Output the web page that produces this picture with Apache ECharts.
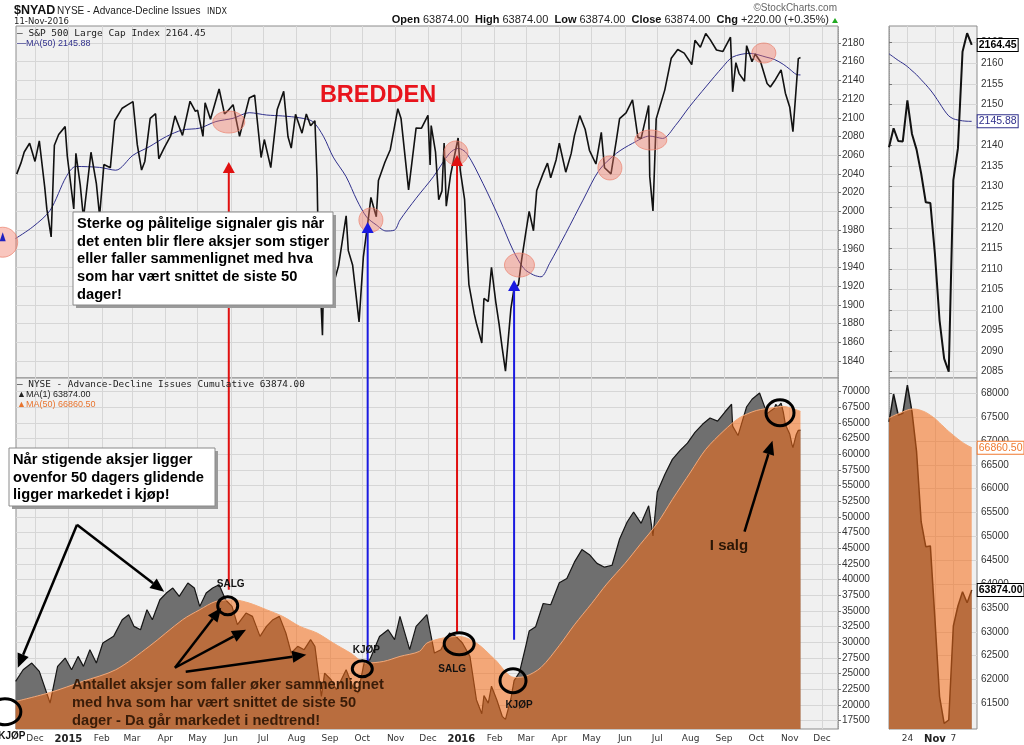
<!DOCTYPE html>
<html>
<head>
<meta charset="utf-8">
<title>$NYAD - Bredden</title>
<script src="https://cdn.jsdelivr.net/npm/echarts@6/dist/echarts.min.js"></script>
<style>
  html, body { margin: 0; padding: 0; background: #fff; }
  #chart { width: 1024px; height: 745px; }
</style>
</head>
<body>
<div id="chart"></div>
<script>
// ---- S&P 500 (upper panel) ----
var spxDates = ['2014-11-14','2014-11-18','2014-11-21','2014-11-26','2014-12-01','2014-12-05','2014-12-10','2014-12-12','2014-12-16','2014-12-19','2014-12-23','2014-12-29','2014-12-31',
  '2015-01-06','2015-01-08','2015-01-12','2015-01-15','2015-01-22','2015-01-27','2015-01-30','2015-02-03','2015-02-09','2015-02-13','2015-02-20','2015-02-25',
  '2015-03-02','2015-03-06','2015-03-10','2015-03-13','2015-03-18','2015-03-23','2015-03-26','2015-03-31','2015-04-06','2015-04-10','2015-04-17','2015-04-24','2015-04-29',
  '2015-05-01','2015-05-06','2015-05-08','2015-05-13','2015-05-21','2015-05-26','2015-05-29','2015-06-03','2015-06-09','2015-06-12','2015-06-18','2015-06-23','2015-06-29',
  '2015-07-02','2015-07-08','2015-07-14','2015-07-20','2015-07-24','2015-07-27','2015-07-31','2015-08-06','2015-08-10','2015-08-14','2015-08-18','2015-08-20','2015-08-21',
  '2015-08-25','2015-08-27','2015-09-01','2015-09-04','2015-09-09','2015-09-16','2015-09-18','2015-09-22','2015-09-28','2015-10-02','2015-10-07','2015-10-09','2015-10-14',
  '2015-10-16','2015-10-22','2015-10-27','2015-11-03','2015-11-06','2015-11-13','2015-11-20','2015-11-25','2015-12-01','2015-12-03','2015-12-04','2015-12-08','2015-12-11',
  '2015-12-14','2015-12-16','2015-12-18','2015-12-22','2015-12-29','2015-12-31','2016-01-04','2016-01-07','2016-01-08','2016-01-13','2016-01-15','2016-01-20','2016-01-22',
  '2016-01-26','2016-01-29','2016-02-02','2016-02-05','2016-02-08','2016-02-11','2016-02-16','2016-02-19','2016-02-23','2016-02-26','2016-03-01','2016-03-04','2016-03-08',
  '2016-03-11','2016-03-17','2016-03-21','2016-03-24','2016-03-29','2016-04-01','2016-04-07','2016-04-12','2016-04-15','2016-04-20','2016-04-25','2016-04-29','2016-05-05',
  '2016-05-10','2016-05-13','2016-05-19','2016-05-24','2016-05-27','2016-06-02','2016-06-08','2016-06-13','2016-06-16','2016-06-23','2016-06-24','2016-06-27','2016-06-30',
  '2016-07-08','2016-07-14','2016-07-20','2016-07-26','2016-08-02','2016-08-05','2016-08-10','2016-08-15','2016-08-19','2016-08-25','2016-08-31','2016-09-07','2016-09-09',
  '2016-09-12','2016-09-15','2016-09-20','2016-09-22','2016-09-27','2016-09-30','2016-10-05','2016-10-11','2016-10-14','2016-10-18','2016-10-24','2016-10-28','2016-11-01',
  '2016-11-04','2016-11-07','2016-11-09','2016-11-11'];
var spxClose = [2039.8,2051.8,2063.5,2072.8,2053.4,2075.4,2026.1,2002.3,1972.7,2070.7,2082.2,2090.6,2058.9,
  2002.6,2062.1,2028.3,1992.7,2063.2,2029.6,1995.0,2050.0,2046.7,2096.9,2110.3,2113.9,
  2117.4,2071.3,2044.2,2053.4,2099.5,2104.4,2056.2,2067.9,2080.6,2102.1,2081.2,2117.7,2106.9,
  2108.3,2080.2,2116.1,2098.5,2130.8,2104.2,2107.4,2114.1,2080.2,2094.1,2121.2,2124.2,2057.6,
  2076.8,2046.7,2108.9,2128.3,2079.7,2067.6,2103.8,2083.6,2104.2,2091.5,2096.9,2035.7,1971.0,
  1867.6,1987.7,1913.9,1921.2,1942.0,1995.3,1958.0,1942.7,1881.8,1951.4,1995.8,2014.9,1994.2,
  2033.1,2052.5,2065.9,2109.8,2099.2,2023.0,2089.2,2088.9,2102.6,2049.6,2091.7,2063.6,2012.4,
  2021.9,2073.1,2005.6,2038.9,2078.4,2043.9,2012.7,1943.1,1922.0,1890.3,1880.3,1859.3,1906.9,
  1903.6,1940.2,1903.0,1880.0,1853.4,1829.1,1895.6,1917.8,1921.3,1948.1,1978.4,1999.9,1979.3,
  2022.2,2040.6,2051.6,2035.9,2055.0,2072.8,2041.9,2061.7,2080.7,2102.4,2087.8,2065.3,2050.6,
  2084.4,2046.6,2040.0,2076.1,2099.1,2105.3,2119.1,2079.1,2078.0,2113.3,2037.4,2000.5,2098.9,
  2129.9,2163.8,2173.0,2169.2,2157.0,2182.9,2175.5,2190.2,2183.9,2172.5,2171.0,2186.2,2127.8,
  2159.0,2147.3,2139.1,2177.2,2159.9,2168.3,2159.7,2136.7,2133.0,2139.6,2151.3,2126.4,2111.7,
  2085.2,2131.5,2163.3,2164.45];
var spxMaDates = ['2014-11-13','2014-11-29','2014-12-15','2014-12-30','2015-01-08','2015-01-30','2015-02-14','2015-03-02','2015-03-17','2015-04-02','2015-04-17',
  '2015-05-03','2015-05-18','2015-06-03','2015-06-18','2015-07-04','2015-07-19','2015-08-04','2015-08-16','2015-08-26','2015-09-04','2015-09-16','2015-09-26',
  '2015-10-05','2015-10-14','2015-10-23','2015-10-31','2015-11-05','2015-11-20','2015-12-06','2015-12-21','2015-12-29','2016-01-06','2016-01-21','2016-02-06',
  '2016-02-18','2016-02-28','2016-03-08','2016-03-15','2016-03-23','2016-04-07','2016-04-23','2016-05-08','2016-05-24','2016-06-08','2016-06-24','2016-07-06',
  '2016-07-18','2016-07-31','2016-08-15','2016-08-31','2016-09-09','2016-09-25','2016-10-10','2016-10-18','2016-10-26','2016-11-01','2016-11-07','2016-11-11'];
var spxMa50 = [1971,1983.5,2001,2037,2048,2047,2044,2060,2069,2080,2087,
  2089,2096,2099.5,2105.5,2103,2102,2100,2096,2080,2058,2037,2012,
  1994,1985.5,1979,1980,1990.7,2014,2037,2062,2067.4,2062,2030,1990.7,
  1958.6,1939,1932,1930,1944.4,1976.5,2012,2044,2062,2072.7,2080.5,2078,
  2092,2112,2133,2154.7,2165,2169,2165,2162.3,2157.2,2152,2146.5,2145.88];

// ---- NYSE Advance-Decline cumulative (lower panel) ----
var adDates = ['2014-11-13','2014-11-20','2014-11-28','2014-12-05','2014-12-15','2014-12-22','2014-12-29','2015-01-04','2015-01-10','2015-01-15','2015-01-21','2015-01-27',
  '2015-02-02','2015-02-12','2015-02-20','2015-02-26','2015-03-03','2015-03-09','2015-03-15','2015-03-20','2015-03-27','2015-04-02','2015-04-08','2015-04-14','2015-04-22',
  '2015-04-28','2015-05-03','2015-05-09','2015-05-15','2015-05-21','2015-05-27','2015-06-02','2015-06-07','2015-06-15','2015-06-21','2015-06-28','2015-07-04','2015-07-10',
  '2015-07-16','2015-07-22','2015-07-27','2015-08-02','2015-08-08','2015-08-14','2015-08-18','2015-08-24','2015-08-27','2015-09-02','2015-09-07','2015-09-16','2015-09-22',
  '2015-09-27','2015-10-03','2015-10-08','2015-10-17','2015-10-25','2015-10-31','2015-11-05','2015-11-14','2015-11-20','2015-11-30','2015-12-07','2015-12-13','2015-12-21',
  '2015-12-27','2016-01-02','2016-01-09','2016-01-15','2016-01-20','2016-01-22','2016-01-26','2016-01-29','2016-02-03','2016-02-08','2016-02-11','2016-02-16','2016-02-19',
  '2016-02-24','2016-03-01','2016-03-04','2016-03-10','2016-03-17','2016-03-24','2016-04-01','2016-04-08','2016-04-15','2016-04-22','2016-04-29','2016-05-06','2016-05-13',
  '2016-05-20','2016-05-27','2016-06-03','2016-06-09','2016-06-16','2016-06-23','2016-06-27','2016-07-01','2016-07-08','2016-07-15','2016-07-22','2016-07-29','2016-08-05',
  '2016-08-12','2016-08-19','2016-08-26','2016-09-02','2016-09-08','2016-09-09','2016-09-14','2016-09-22','2016-09-27','2016-10-04','2016-10-11','2016-10-14','2016-10-18',
  '2016-10-19','2016-10-21','2016-10-24','2016-10-26','2016-10-28','2016-11-01','2016-11-03','2016-11-04','2016-11-07','2016-11-09','2016-11-11'];
var adLine = [23765,25630,26700,25375,20320,26170,27500,25630,27760,26170,28830,26700,
  29900,30960,33620,34420,32550,32020,35210,33620,36800,37870,38670,37340,39470,
  38670,35740,37870,38670,39200,36800,35740,32820,34680,34150,30960,32550,33620,
  34150,31490,28300,29370,28830,30430,29370,21390,25100,24040,22450,25630,22980,
  21920,26970,27230,30950,32020,30430,34150,28830,32550,34420,28300,28830,31490,
  30960,29900,27760,20850,18600,21500,20300,23000,20800,18200,17700,21000,23900,
  25200,29500,31800,32500,36200,36000,39500,40200,42800,44800,44000,42600,42000,
  42300,46500,49200,50800,49000,51800,47000,54000,56800,59200,60600,61800,63500,
  64800,65800,65300,66800,68000,64500,63000,67600,68800,69800,66500,66900,67400,
  67985,67580,68174,66776,64784,63260,61640,61080,63120,63840,63874];
var adMaDates = ['2014-11-13','2014-12-15','2015-01-14','2015-02-14','2015-03-17','2015-04-17','2015-05-03','2015-05-18','2015-06-03','2015-06-18','2015-07-04',
  '2015-07-19','2015-08-04','2015-08-20','2015-09-04','2015-09-20','2015-10-05','2015-10-21','2015-11-05','2015-11-23','2015-11-30','2015-12-15','2015-12-30',
  '2016-01-15','2016-02-01','2016-02-19','2016-03-01','2016-03-15','2016-04-01','2016-04-15','2016-05-01','2016-05-15','2016-06-01','2016-06-15','2016-07-01',
  '2016-07-15','2016-08-01','2016-08-15','2016-09-01','2016-09-15','2016-10-01','2016-10-18','2016-10-25','2016-11-01','2016-11-07','2016-11-11'];
var adMa50 = [20570,22000,23760,25630,29350,33600,35210,36540,36800,36270,35210,
  34150,32550,31490,29900,28300,26700,26970,27760,28560,29890,30690,30950,
  29890,27300,24400,24600,26000,29500,32800,36200,39300,42600,45600,49000,
  52800,57200,60800,63800,65800,67000,67480,67665,67470,67120,66860.5];

// ---- zoomed inset: last trading days ----
var insetDates = ['2016-10-18','2016-10-19','2016-10-20','2016-10-21','2016-10-24','2016-10-25','2016-10-26','2016-10-27','2016-10-28','2016-10-31',
  '2016-11-01','2016-11-02','2016-11-03','2016-11-04','2016-11-07','2016-11-08','2016-11-09','2016-11-10','2016-11-11'];
var insetSpx = [2139.6,2144.2,2141.1,2141.0,2151.0,2142.8,2139.0,2133.2,2126.2,2126.0,2113.5,2097.5,2088.2,2085.0,2131.6,2139.3,2162.8,2167.3,2164.45];
var insetSpxMa = [2162.3,2161.5,2160.7,2160.0,2159.2,2158.2,2157.2,2156.0,2154.8,2153.5,2152.0,2150.3,2148.6,2147.2,2146.5,2146.2,2146.0,2145.9,2145.88];
var insetAd = [67400,67985,67545,67580,68174,67615,66776,65308,64784,64800,63260,61640,61080,61150,63120,63540,63840,63610,63874];
var insetAdMa = [67480,67530,67570,67610,67650,67670,67665,67640,67600,67540,67470,67380,67290,67200,67120,67040,66970,66910,66860.5];

// ---- axis ticks ----
var xTickDates = ['2014-12-01','2015-01-01','2015-02-01','2015-03-01','2015-04-01','2015-05-01','2015-06-01','2015-07-01','2015-08-01','2015-09-01','2015-10-01','2015-11-01','2015-12-01',
  '2016-01-01','2016-02-01','2016-03-01','2016-04-01','2016-05-01','2016-06-01','2016-07-01','2016-08-01','2016-09-01','2016-10-01','2016-11-01','2016-12-01'];
var xTickLabels = ['Dec','2015','Feb','Mar','Apr','May','Jun','Jul','Aug','Sep','Oct','Nov','Dec','2016','Feb','Mar','Apr','May','Jun','Jul','Aug','Sep','Oct','Nov','Dec'];
var spxTicks = [1840,1860,1880,1900,1920,1940,1960,1980,2000,2020,2040,2060,2080,2100,2120,2140,2160,2180];
var adTicks = [17500,20000,22500,25000,27500,30000,32500,35000,37500,40000,42500,45000,47500,50000,52500,55000,57500,60000,62500,65000,67500,70000];
var insetSpxTicks = [2085,2090,2095,2100,2105,2110,2115,2120,2125,2130,2135,2140,2145,2150,2155,2160,2165];
var insetAdTicks = [61500,62000,62500,63000,63500,64000,64500,65000,65500,66000,66500,67000,67500,68000];
var insetTickIdx = [4, 10, 14];
var insetTickLabels = ['24', 'Nov', '7'];

// ---- annotation anchors (data units) ----
var pinkSpots = [['2014-11-01',1967],['2015-05-30',2095.5],['2015-10-09',1990.8],['2015-12-27',2062.4],['2016-02-24',1942.6],['2016-05-18',2046.4],['2016-06-25',2076.3],['2016-10-08',2169.3]];
var signalArrows = [ // date, A-D value at foot, S&P value at tip
  ['2015-05-30',38400,2052.8,'#e01010'],
  ['2015-10-06',26900,1988.6,'#1a1ae0'],
  ['2015-12-28',31540,2060.3,'#e01010'],
  ['2016-02-19',30420,1926.6,'#1a1ae0']
];
var blackRings = [['2014-11-03',18928],['2015-05-29',35845],['2015-10-01',25790],['2015-12-30',29780],['2016-02-18',23876],['2016-10-23',66648]];
var pointerArrows = [
  [['2015-01-09',48773],['2014-11-15',25950]],
  [['2015-01-09',48773],['2015-03-31',38080]],
  [['2015-04-10',25950],['2015-05-23',35530]],
  [['2015-04-10',25950],['2015-06-15',32015]],
  [['2015-04-20',25310],['2015-08-10',28025]],
  [['2016-09-20',47656],['2016-10-16',62180]]
];

function t(s) { var p = s.split('-'); return new Date(+p[0], +p[1] - 1, +p[2]).getTime(); }
function pairs(dates, vals) { return dates.map(function (d, i) { return [t(d), vals[i]]; }); }
function idxPairs(vals) { return vals.map(function (v, i) { return [i, v]; }); }

var DAY = 86400000;
var xMin = t('2014-12-01') - 17.65 * DAY;
var xMax = t('2016-12-01') + 14.86 * DAY;
var xTickTimes = xTickDates.map(t);
var FONT = "'Liberation Sans', Arial, sans-serif";
var gridLine = { show: true, lineStyle: { color: '#d6d6d6', width: 1 } };

function dateAxis(grid, showLabels) {
  return {
    type: 'value', gridIndex: grid, min: xMin, max: xMax,
    axisLine: { show: false },
    axisTick: { show: false, customValues: xTickTimes },
    splitLine: gridLine,
    axisLabel: {
      show: showLabels, customValues: xTickTimes, margin: 5,
      fontFamily: 'DejaVu Sans', fontSize: 9, color: '#333',
      formatter: function (v) {
        var k = xTickTimes.indexOf(v);
        var s = k >= 0 ? xTickLabels[k] : '';
        return /^\d{4}$/.test(s) ? '{b|' + s + '}' : s;
      },
      rich: { b: { fontFamily: 'DejaVu Sans', fontSize: 10, fontWeight: 'bold', color: '#222' } }
    }
  };
}
function indexAxis(grid, showLabels) {
  return {
    type: 'value', gridIndex: grid, min: 0, max: 19.15,
    axisLine: { show: false },
    axisTick: { show: false, customValues: insetTickIdx },
    splitLine: gridLine,
    axisLabel: {
      show: showLabels, customValues: insetTickIdx, margin: 5,
      fontFamily: 'DejaVu Sans', fontSize: 9, color: '#333',
      formatter: function (v) {
        var s = insetTickLabels[insetTickIdx.indexOf(v)] || '';
        return /^[A-Z]/.test(s) ? '{b|' + s + '}' : s;
      },
      rich: { b: { fontFamily: 'DejaVu Sans', fontSize: 10, fontWeight: 'bold', color: '#222' } }
    }
  };
}
function priceAxis(grid, min, max, ticks) {
  return {
    type: 'value', gridIndex: grid, position: 'right', min: min, max: max,
    axisLine: { show: true, lineStyle: { color: '#9a9a9a', type: 'dotted' } },
    axisTick: { show: true, length: 3, customValues: ticks, lineStyle: { color: '#777' } },
    splitLine: gridLine,
    axisLabel: { customValues: ticks, margin: 4, fontFamily: FONT, fontSize: 10, color: '#333',
      formatter: function (v) { return String(v); } }
  };
}
function callout(color, bold) {
  return {
    show: true, distance: 6, align: 'left', verticalAlign: 'middle',
    formatter: function (p) { return p.value[1].toFixed(2); },
    fontFamily: FONT, fontSize: 10.5, fontWeight: bold ? 'bold' : 'normal', color: bold ? '#000' : color,
    backgroundColor: '#fff', borderColor: color, borderWidth: 1, padding: [1, 1, 0, 1]
  };
}

var gridStyle = { show: true, backgroundColor: '#f0f0f0', borderColor: '#8c8c8c', borderWidth: 1 };
var chart = echarts.init(document.getElementById('chart'));
chart.setOption({
  animation: false,
  backgroundColor: '#ffffff',
  grid: [
    Object.assign({ left: 16, top: 26, width: 822, height: 352 }, gridStyle),
    Object.assign({ left: 16, top: 378, width: 822, height: 351 }, gridStyle),
    Object.assign({ left: 889, top: 26, width: 88, height: 352 }, gridStyle),
    Object.assign({ left: 889, top: 378, width: 88, height: 351 }, gridStyle)
  ],
  xAxis: [dateAxis(0, false), dateAxis(1, true), indexAxis(2, false), indexAxis(3, true)],
  yAxis: [
    priceAxis(0, 1821.8, 2198.2, spxTicks),
    priceAxis(1, 16175, 72187, adTicks),
    priceAxis(2, 2083.47, 2169.06, insetSpxTicks),
    priceAxis(3, 60961, 68321, insetAdTicks)
  ],
  series: [
    { type: 'line', xAxisIndex: 0, yAxisIndex: 0, data: pairs(spxDates, spxClose), symbol: 'none',
      lineStyle: { color: '#111', width: 1.6 }, z: 3 },
    { type: 'line', xAxisIndex: 0, yAxisIndex: 0, data: pairs(spxMaDates, spxMa50), symbol: 'none', smooth: 0.3,
      lineStyle: { color: '#30308c', width: 1 }, z: 2 },
    { type: 'line', xAxisIndex: 1, yAxisIndex: 1, data: pairs(adDates, adLine), symbol: 'none',
      lineStyle: { color: '#151515', width: 1.2 }, areaStyle: { color: '#6f6f6f', opacity: 1, origin: 'start' }, z: 2 },
    { type: 'line', xAxisIndex: 1, yAxisIndex: 1, data: pairs(adMaDates, adMa50), symbol: 'none', smooth: 0.3,
      lineStyle: { color: '#f3a878', width: 1 }, areaStyle: { color: '#f56b15', opacity: 0.55, origin: 'start' }, z: 3 },
    { type: 'line', xAxisIndex: 2, yAxisIndex: 2, data: idxPairs(insetSpx), symbol: 'none',
      lineStyle: { color: '#111', width: 2 }, endLabel: callout('#000', true), z: 3 },
    { type: 'line', xAxisIndex: 2, yAxisIndex: 2, data: idxPairs(insetSpxMa), symbol: 'none', smooth: 0.3,
      lineStyle: { color: '#30308c', width: 1 }, endLabel: callout('#30308c', false), z: 2 },
    { type: 'line', xAxisIndex: 3, yAxisIndex: 3, data: idxPairs(insetAd), symbol: 'none',
      lineStyle: { color: '#151515', width: 1.5 }, areaStyle: { color: '#6f6f6f', opacity: 1, origin: 'start' },
      endLabel: callout('#000', true), z: 2 },
    { type: 'line', xAxisIndex: 3, yAxisIndex: 3, data: idxPairs(insetAdMa), symbol: 'none', smooth: 0.3,
      lineStyle: { color: '#f3a878', width: 1 }, areaStyle: { color: '#f56b15', opacity: 0.55, origin: 'start' },
      endLabel: callout('#f07a30', false), z: 3 }
  ]
});

// ---- annotations: positioned through the chart's own scales ----
function px(grid, d, v) { return chart.convertToPixel({ gridIndex: grid }, [t(d), v]); }
var Z = 50;
var g = [];
function txt(x, y, text, font, fill, align, extra) {
  g.push({ type: 'text', x: x, y: y, z: Z + 2, style: Object.assign({ text: text, font: font, fill: fill,
    align: align || 'left', verticalAlign: 'middle' }, extra || {}) });
}
function arrowHead(tip, from, len, w, color) {
  var dx = tip[0] - from[0], dy = tip[1] - from[1], L = Math.sqrt(dx * dx + dy * dy);
  var ux = dx / L, uy = dy / L, bx = tip[0] - ux * len, by = tip[1] - uy * len;
  g.push({ type: 'polygon', z: Z + 1, shape: { points: [tip, [bx - uy * w / 2, by + ux * w / 2], [bx + uy * w / 2, by - ux * w / 2]] },
    style: { fill: color } });
  return [bx, by];
}
function arrow(from, to, color, width, len, w) {
  var base = arrowHead(to, from, len, w, color);
  g.push({ type: 'line', z: Z, shape: { x1: from[0], y1: from[1], x2: base[0], y2: base[1] },
    style: { stroke: color, lineWidth: width } });
}

// header
txt(14, 11, '$NYAD', 'bold 12.5px ' + FONT, '#111');
txt(57, 11, 'NYSE - Advance-Decline Issues', '10px ' + FONT, '#222');
txt(207, 12, 'INDX', '8px DejaVu Sans', '#222');
txt(14, 22, '11-Nov-2016', '8.5px DejaVu Sans', '#222');
txt(837, 8, '\u00a9StockCharts.com', '10px ' + FONT, '#666', 'right');
var last = adLine[adLine.length - 1], prev = 63654;
g.push({ type: 'text', x: 829, y: 20, z: Z + 2, style: {
  text: '{b|Open} ' + last.toFixed(2) + '  {b|High} ' + last.toFixed(2) + '  {b|Low} ' + last.toFixed(2) +
        '  {b|Close} ' + last.toFixed(2) + '  {b|Chg} +' + (last - prev).toFixed(2) + ' (+' + ((last - prev) / prev * 100).toFixed(2) + '%)',
  font: '11px ' + FONT, fill: '#222', align: 'right', verticalAlign: 'middle',
  rich: { b: { font: 'bold 11px ' + FONT, fill: '#111' } } } });
g.push({ type: 'polygon', z: Z, shape: { points: [[832, 23], [838, 23], [835, 18]] }, style: { fill: '#22aa22' } });

// panel legends
txt(17, 34, '\u2014 S&P 500 Large Cap Index ' + spxClose[spxClose.length - 1].toFixed(2), '9.5px DejaVu Sans Mono', '#222');
txt(17, 44, '\u2014MA(50) ' + insetSpxMa[insetSpxMa.length - 1].toFixed(2), '9px ' + FONT, '#30308c');
txt(17, 385, '\u2014 NYSE - Advance-Decline Issues Cumulative ' + last.toFixed(2), '9.4px DejaVu Sans Mono', '#222');
txt(17, 395, '\u25b2MA(1) ' + insetAd[insetAd.length - 1].toFixed(2), '9px ' + FONT, '#222');
txt(17, 405, '\u25b2MA(50) ' + insetAdMa[insetAdMa.length - 1].toFixed(2), '9px ' + FONT, '#e8742e');

// pink highlight spots on the S&P line
var pinkR = [[15, 15], [16, 11], [12, 12], [12, 12], [15, 12], [12, 12], [16, 10], [12, 10]];
pinkSpots.forEach(function (s, i) {
  var p = px(0, s[0], s[1]);
  g.push({ type: 'ellipse', z: Z, shape: { cx: p[0], cy: p[1], rx: pinkR[i][0], ry: pinkR[i][1] },
    style: { fill: 'rgba(240,120,100,0.42)', stroke: 'rgba(235,130,110,0.7)', lineWidth: 1 } });
});
(function () {
  var p = px(0, pinkSpots[0][0], pinkSpots[0][1]);
  g.push({ type: 'polygon', z: Z + 1, shape: { points: [[p[0] - 3, p[1] - 1], [p[0] + 3, p[1] - 1], [p[0], p[1] - 10]] }, style: { fill: '#2020c0' } });
})();

// vertical buy / sell signal arrows
signalArrows.forEach(function (a) {
  var foot = px(1, a[0], a[1]), tip = px(0, a[0], a[2]);
  arrow([tip[0], foot[1]], tip, a[3], 2, 11, 12);
});

// black rings on the A-D panel
var ringR = [[16, 13], [10, 9], [10, 8], [15, 11], [13, 12], [14, 13]];
blackRings.forEach(function (r, i) {
  var p = px(1, r[0], r[1]);
  g.push({ type: 'ellipse', z: Z, shape: { cx: p[0], cy: p[1], rx: ringR[i][0], ry: ringR[i][1] },
    style: { fill: 'none', stroke: '#000', lineWidth: 3 } });
});
var ringText = [['KJ\u00d8P', 7, 25], ['SALG', 3, -21], ['KJ\u00d8P', 4, -18], ['SALG', -7, 26], ['KJ\u00d8P', 6, 25]];
ringText.forEach(function (rt, i) {
  var p = px(1, blackRings[i][0], blackRings[i][1]);
  txt(p[0] + rt[1], p[1] + rt[2], rt[0], 'bold 10px ' + FONT, '#111', 'center');
});

// pointer arrows
pointerArrows.forEach(function (a) {
  arrow(px(1, a[0][0], a[0][1]), px(1, a[1][0], a[1][1]), '#000', 2.5, 14, 12);
});

// headline
txt(378, 96, 'BREDDEN', 'bold 23.5px ' + FONT, '#e8141c', 'center');

// text boxes
function box(x, y, w, h, lines, size) {
  g.push({ type: 'rect', z: Z + 3, shape: { x: x + 3, y: y + 3, width: w, height: h }, style: { fill: '#9a9a9a' } });
  g.push({ type: 'rect', z: Z + 4, shape: { x: x, y: y, width: w, height: h }, style: { fill: '#fff', stroke: '#8a8a8a', lineWidth: 1 } });
  g.push({ type: 'text', x: x + 4, y: y + 3, z: Z + 5, style: { text: lines.join('\n'), font: 'bold ' + size + 'px ' + FONT,
    fill: '#000', lineHeight: 17.7, align: 'left', verticalAlign: 'top' } });
}
box(73, 212, 260, 93, ['Sterke og p\u00e5litelige signaler gis n\u00e5r', 'det enten blir flere aksjer som stiger',
  'eller faller sammenlignet med hva', 'som har v\u00e6rt snittet de siste 50', 'dager!'], 14.7);
box(9, 448, 206, 58, ['N\u00e5r stigende aksjer ligger', 'ovenfor 50 dagers glidende', 'ligger markedet i kj\u00f8p!'], 14.7);

g.push({ type: 'text', x: 72, y: 676, z: Z + 2, style: { text: 'Antallet aksjer som faller \u00f8ker sammenlignet\nmed hva som har v\u00e6rt snittet de siste 50\ndager - Da g\u00e5r markedet i nedtrend!',
  font: 'bold 14.7px ' + FONT, fill: '#3a1c08', lineHeight: 18, align: 'left', verticalAlign: 'top' } });
txt(729, 546, 'I salg', 'bold 15px ' + FONT, '#2a1606', 'center');

chart.setOption({ graphic: g });
</script>
</body>
</html>
